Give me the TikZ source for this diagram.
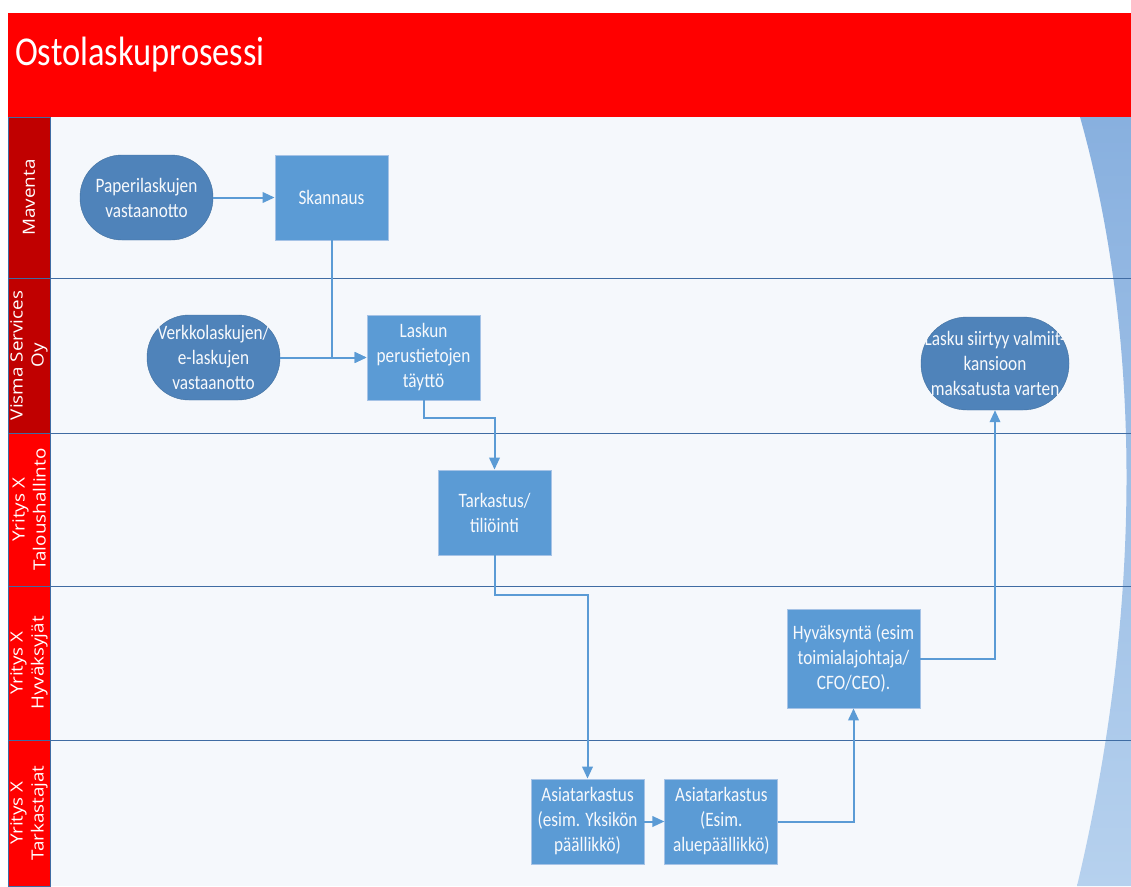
\documentclass[tikz,border=0pt]{standalone}
\usepackage{fontspec}
\setmainfont{Carlito}[FakeStretch=0.84]
\newfontfamily\lanefont{Open Sans}[FakeStretch=1.12]
\usetikzlibrary{arrows.meta,positioning}
\definecolor{hdrred}{HTML}{FF0000}
\definecolor{darkred}{HTML}{C00000}
\definecolor{lanebg}{HTML}{F5F8FC}
\definecolor{laneline}{HTML}{3F6CA3}
\definecolor{termfill}{HTML}{4F83BA}
\definecolor{termedge}{HTML}{41709F}
\definecolor{procfill}{HTML}{5B9BD5}
\definecolor{procedge}{HTML}{A6C3E6}
\definecolor{flowcol}{HTML}{5B9BD5}
\definecolor{nodetext}{HTML}{F7F9FC}
\definecolor{decotop}{HTML}{88B0DF}
\definecolor{decobot}{HTML}{B6D1EE}

\begin{document}
\begin{tikzpicture}[x=1pt, y=-1pt, >={Triangle[length=12pt,width=10.5pt]}, every node/.style={font=\fontsize{20.5}{25}\selectfont}]
\tikzstyle{term}=[draw=termedge, fill=termfill, rounded corners=42, minimum width=133, minimum height=85, text=nodetext, align=center, inner sep=0pt]
\tikzstyle{proc}=[draw=procedge, line width=0.8pt, fill=procfill, minimum width=113, minimum height=85, text=nodetext, align=center, inner sep=0pt]
\tikzstyle{lanelbl}=[draw=laneline, line width=0.6pt, rotate=90, minimum height=42, text=white, align=center, inner sep=0pt, font=\lanefont\fontsize{16.8}{21}\selectfont]
\tikzstyle{flow}=[draw=flowcol, line width=2pt, ->]
\tikzstyle{lanesep}=[draw=laneline, line width=1pt]
\useasboundingbox (0,0) rectangle (1131,886);
\fill[white] (0,0) rectangle (1131,886);

% swimlanes
\fill[lanebg] (50,117) rectangle (1131,886);
\shade[top color=decotop, bottom color=decobot] (1080,117) .. controls (1140,330) and (1145,600) .. (1077,886) -- (1131,886) -- (1131,117) -- cycle;
\draw[lanesep] (8,278) -- (1131,278);
\draw[lanesep] (8,433) -- (1131,433);
\draw[lanesep] (8,586) -- (1131,586);
\draw[lanesep] (8,740) -- (1131,740);

\node[lanelbl, fill=darkred, minimum width=161] (maventa) at (29,197.5) {Maventa};
\node[lanelbl, fill=darkred, minimum width=155] (visma) at (29,355.5) {Visma Services\\Oy};
\node[lanelbl, fill=hdrred, minimum width=153] (talous) at (29,509.5) {Yritys X\\Taloushallinto};
\node[lanelbl, fill=hdrred, minimum width=154] (hyvaksyjat) at (29,663) {Yritys X\\Hyväksyjät};
\node[lanelbl, fill=hdrred, minimum width=146] (tarkastajat) at (29,813) {Yritys X\\Tarkastajat};

% header
\fill[hdrred] (8,13) rectangle (1131,117);
\node[anchor=base west, inner sep=0pt, text=white, font=\fontsize{41}{45}\selectfont] (title) at (15,65) {Ostolaskuprosessi};

% steps
\node[term] (paper) at (146.5,197.5) {Paperilaskujen\\vastaanotto};
\node[proc] (skan) at (331.5,197.5) {Skannaus};
\node[term] (verkko) at (213.5,357.5) {Verkkolaskujen/\\e-laskujen\\vastaanotto};
\node[proc] (perus) at (423.5,357.5) {Laskun\\perustietojen\\täyttö};
\node[term, minimum width=148, minimum height=93, rounded corners=46] (valmis) at (995,363.5) {Lasku siirtyy valmiit-\\kansioon\\maksatusta varten};
\node[proc] (tili) at (494.5,512.5) {Tarkastus/\\tiliöinti};
\node[proc, minimum width=133, minimum height=99] (hyvaksy) at (853.5,658.5) {Hyväksyntä (esim\\toimialajohtaja/\\CFO/CEO).};
\node[proc] (asia1) at (587.5,821.5) {Asiatarkastus\\(esim. Yksikön\\päällikkö)};
\node[proc, right=20pt of asia1] (asia2) {Asiatarkastus\\(Esim.\\aluepäällikkö)};

\draw[flow] (paper) -- (skan);
\draw[flow] (skan.south) |- (perus.west);
\draw[flow] (verkko) -- (perus);
\draw[flow] (perus.south) -- ++(0,18) -| (tili.north);
\draw[flow] (tili.south) -- ++(0,40) -| (asia1.north);
\draw[flow] (asia1) -- (asia2);
\draw[flow] (asia2.east) -| (hyvaksy.south);
\draw[flow] (hyvaksy.east) -| (valmis.south);
\end{tikzpicture}
\end{document}
